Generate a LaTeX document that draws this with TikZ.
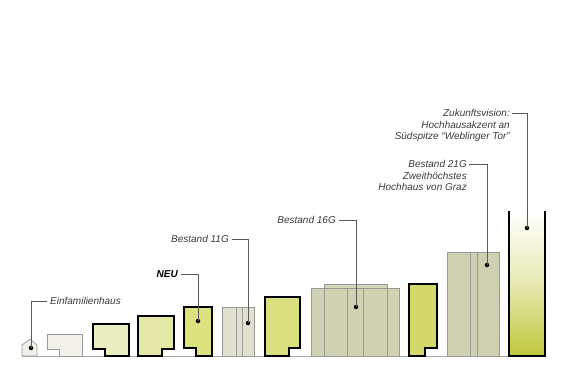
\documentclass[tikz,border=0pt]{standalone}
\usepackage{fontspec}
\setmainfont{Liberation Sans}
\usepackage{tikz}
\usetikzlibrary{calc}

\definecolor{efhfill}{HTML}{F0F0E8}
\definecolor{lightfill}{HTML}{F2F2EA}
\definecolor{neuA}{HTML}{EBEEC0}
\definecolor{neuB}{HTML}{E4E8A6}
\definecolor{neuC}{HTML}{DDE27E}
\definecolor{neuD}{HTML}{DCDF80}
\definecolor{neuE}{HTML}{D4D86A}
\definecolor{alt11}{HTML}{E0E0CC}
\definecolor{alt16}{HTML}{D0D0B2}
\definecolor{alt16top}{HTML}{D6D6BC}
\definecolor{alt21}{HTML}{CFCFB2}
\definecolor{tower}{HTML}{C0C83A}
\definecolor{labeltext}{HTML}{3A3A3A}

\begin{document}
\begin{tikzpicture}[x=1pt,y=-1pt,
    bestand/.style={draw=black!40, line width=0.7pt},
    neubau/.style={draw=black, line width=2pt, line join=miter},
    leader/.style={draw=black!65, line width=0.7pt},
    dot/.style={circle, fill=black, inner sep=0pt, minimum size=4.5pt},
    lbl/.style={font=\fontsize{10}{11.5}\selectfont\itshape, text=labeltext, inner sep=2pt, align=right}]
    \useasboundingbox (0,0) rectangle (568,380);

    % Ground line
    \draw[black!35, line width=0.7pt] (22,356) -- (509,356);

    % Einfamilienhaus and small existing block
    \filldraw[bestand, fill=efhfill] (22,356) -- (22,345) -- (30,339) -- (37,345) -- (37,356) -- cycle;
    \filldraw[bestand, fill=lightfill] (59,356) -- (82,356) -- (82,334) -- (47,334) -- (47,349) -- (59,349) -- cycle;

    % New buildings (thick outlines)
    \filldraw[neubau, fill=neuA] (105,356) -- (129,356) -- (129,324) -- (93,324) -- (93,349) -- (105,349) -- cycle;
    \filldraw[neubau, fill=neuB] (138,356) -- (138,316) -- (174,316) -- (174,349) -- (162,349) -- (162,356) -- cycle;
    \filldraw[neubau, fill=neuC] (196,356) -- (212,356) -- (212,307) -- (184,307) -- (184,348) -- (196,348) -- cycle;
    \filldraw[neubau, fill=neuD] (265,356) -- (265,297) -- (300,297) -- (300,348) -- (289,348) -- (289,356) -- cycle;
    \filldraw[neubau, fill=neuE] (409,356) -- (409,284) -- (437,284) -- (437,348) -- (425,348) -- (425,356) -- cycle;

    % Bestand 11G
    \filldraw[bestand, fill=alt11] (222,307) rectangle (254,356);
    \foreach \x in {236,242}
        \draw[bestand] (\x,307) -- (\x,356);

    % Bestand 16G
    \filldraw[bestand, fill=alt16top] (324,284) rectangle (387,356);
    \filldraw[bestand, fill=alt16] (311,288) rectangle (399,356);
    \foreach \x in {324,347,363,387}
        \draw[bestand] (\x,288) -- (\x,356);

    % Bestand 21G
    \filldraw[bestand, fill=alt21] (447,252) rectangle (499,356);
    \foreach \x in {470,477}
        \draw[bestand] (\x,252) -- (\x,356);

    % Zukunftsvision tower
    \shade[top color=white, bottom color=tower, middle color=tower!40] (509,211) rectangle (545,356);
    \draw[neubau] (509,211) -- (509,356) -- (545,356) -- (545,211);

    % Dots
    \node[dot] (efhdot) at (31,348) {};
    \node[dot] (neudot) at (198,321) {};
    \node[dot] (b11dot) at (248,323) {};
    \node[dot] (b16dot) at (356,307) {};
    \node[dot] (b21dot) at (487,265) {};
    \node[dot] (zukdot) at (527,228) {};

    % Labels
    \node[lbl, anchor=west, inner sep=3pt] (efhlbl) at (47,301) {Einfamilienhaus};
    \node[lbl, anchor=east, inner sep=3pt, font=\fontsize{10}{11.5}\selectfont\itshape\bfseries, text=black] (neulbl) at (181,274) {NEU};
    \node[lbl, anchor=east, inner sep=3pt] (b11lbl) at (232,239) {Bestand 11G};
    \node[lbl, anchor=east, inner sep=3pt] (b16lbl) at (339,220) {Bestand 16G};
    \node[lbl, anchor=north east] (b21lbl) at (469,158.3) {Bestand 21G\\Zweithöchstes\\Hochhaus von Graz};
    \node[lbl, anchor=north east] (zuklbl) at (512,107.3) {Zukunftsvision:\\Hochhausakzent an\\Südspitze “Weblinger Tor”};

    % Leaders
    \draw[leader] (efhdot.center) |- (efhlbl.west);
    \draw[leader] (neudot.center) |- (neulbl.east);
    \draw[leader] (b11dot.center) |- (b11lbl.east);
    \draw[leader] (b16dot.center) |- (b16lbl.east);
    \draw[leader] (b21dot.center) |- ([yshift=-6pt]b21lbl.north east);
    \draw[leader] (zukdot.center) |- ([yshift=-6pt]zuklbl.north east);
\end{tikzpicture}
\end{document}
